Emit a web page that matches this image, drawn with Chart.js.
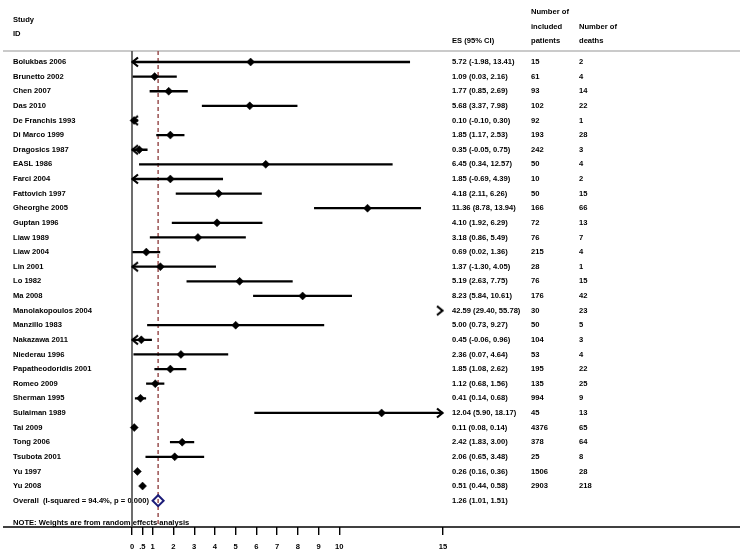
<!DOCTYPE html>
<html>
<head>
<meta charset="utf-8">
<script src="https://cdn.jsdelivr.net/npm/chart.js@4.4.1/dist/chart.umd.min.js"></script>
<style>
body { margin: 0; background: #fff; }
</style>
</head>
<body>
<canvas id="forest" width="745" height="553"></canvas>
<script>
///////////////////////////////// DONNEES

let studies = ["Bolukbas 2006","Brunetto 2002","Chen 2007","Das 2010","De Franchis 1993","Di Marco 1999","Dragosics 1987","EASL 1986","Farci 2004","Fattovich 1997","Gheorghe 2005","Guptan 1996","Liaw 1989","Liaw 2004","Lin 2001","Lo 1982","Ma 2008","Manolakopoulos 2004","Manzillo 1983","Nakazawa 2011","Niederau 1996","Papatheodoridis 2001","Romeo 2009","Sherman 1995","Sulaiman 1989","Tai 2009","Tong 2006","Tsubota 2001","Yu 1997","Yu 2008"];
let es = [5.72,1.09,1.77,5.68,0.10,1.85,0.35,6.45,1.85,4.18,11.36,4.10,3.18,0.69,1.37,5.19,8.23,42.59,5.00,0.45,2.36,1.85,1.12,0.41,12.04,0.11,2.42,2.06,0.26,0.51];
let lower = [-1.98,0.03,0.85,3.37,-0.10,1.17,-0.05,0.34,-0.69,2.11,8.78,1.92,0.86,0.02,-1.30,2.63,5.84,29.40,0.73,-0.06,0.07,1.08,0.68,0.14,5.90,0.08,1.83,0.65,0.16,0.44];
let upper = [13.41,2.16,2.69,7.98,0.30,2.53,0.75,12.57,4.39,6.26,13.94,6.29,5.49,1.36,4.05,7.75,10.61,55.78,9.27,0.96,4.64,2.62,1.56,0.68,18.17,0.14,3.00,3.48,0.36,0.58];
let patients = [15,61,93,102,92,193,242,50,10,50,166,72,76,215,28,76,176,30,50,104,53,195,135,994,45,4376,378,25,1506,2903];
let deaths = [2,4,14,22,1,28,3,4,2,15,66,13,7,4,1,15,42,23,5,3,4,22,25,9,13,65,64,8,28,218];

let overallLabel = "Overall  (I-squared = 94.4%, p = 0.000)";
let overallEs = 1.26, overallLow = 1.01, overallHigh = 1.51;
let noteText = "NOTE: Weights are from random effects analysis";

let tickValues = [0,0.5,1,2,3,4,5,6,7,8,9,10,15];
let xMin = 0, xMax = 15;

///////////////////////////////// CONSTRUCTION DES SERIES

let overallRow = studies.length;
let noteRow = studies.length + 1.55;
let yTop = -0.752, yBottom = 31.8;

let ciLines = [];
let points = [];
let leftArrows = [];
let rightArrows = [];

for (let i = 0; i < studies.length; i++) {
    let a = Math.max(lower[i], xMin);
    let b = Math.min(upper[i], xMax);
    if (a < b) {
        ciLines.push({x: a, y: i});
        ciLines.push({x: b, y: i});
        ciLines.push({x: b, y: null});
    }
    if (es[i] >= xMin && es[i] <= xMax) points.push({x: es[i], y: i});
    if (lower[i] < xMin) leftArrows.push({x: xMin, y: i});
    if (upper[i] > xMax) rightArrows.push({x: xMax, y: i});
}

function fmt(v) { return v.toFixed(2); }

// petites fleches ouvertes, la pointe au centre du canvas
function makeArrow(dir) {
    let c = document.createElement('canvas');
    c.width = 16; c.height = 12;
    let ctx = c.getContext('2d');
    ctx.strokeStyle = '#000';
    ctx.lineWidth = 2.2;
    ctx.lineJoin = 'miter';
    ctx.beginPath();
    if (dir < 0) {
        ctx.moveTo(14, 1.5); ctx.lineTo(8.5, 6); ctx.lineTo(14, 10.5);
    } else {
        ctx.moveTo(2, 1.5); ctx.lineTo(7.5, 6); ctx.lineTo(2, 10.5);
    }
    ctx.stroke();
    return c;
}

let font = "bold 7.6px 'Liberation Sans', Arial, sans-serif";

///////////////////////////////// TEXTES + LIGNES HORS ZONE

let textPlugin = {
    id: 'forestText',
    beforeDatasetsDraw(chart) {
        let ctx = chart.ctx;
        let y = chart.scales.y;
        let area = chart.chartArea;
        ctx.save();
        ctx.fillStyle = '#000';
        ctx.font = font;
        ctx.textBaseline = 'middle';
        ctx.textAlign = 'left';

        // entetes
        ctx.fillText("Study", 13, 20);
        ctx.fillText("ID", 13, 34);
        ctx.fillText("ES (95% CI)", 452, 41);
        ctx.fillText("Number of", 531, 12);
        ctx.fillText("included", 531, 27);
        ctx.fillText("patients", 531, 41);
        ctx.fillText("Number of", 579, 27);
        ctx.fillText("deaths", 579, 41);

        for (let i = 0; i < studies.length; i++) {
            let py = y.getPixelForValue(i);
            ctx.fillText(studies[i], 13, py);
            ctx.fillText(fmt(es[i]) + " (" + fmt(lower[i]) + ", " + fmt(upper[i]) + ")", 452, py);
            ctx.fillText(String(patients[i]), 531, py);
            ctx.fillText(String(deaths[i]), 579, py);
        }
        let po = y.getPixelForValue(overallRow);
        ctx.fillText(overallLabel, 13, po);
        ctx.fillText(fmt(overallEs) + " (" + fmt(overallLow) + ", " + fmt(overallHigh) + ")", 452, po);
        ctx.fillText(noteText, 13, y.getPixelForValue(noteRow));

        // ligne grise sous l'entete
        ctx.strokeStyle = '#b8b8b8';
        ctx.lineWidth = 1.5;
        ctx.beginPath();
        ctx.moveTo(3, area.top);
        ctx.lineTo(740, area.top);
        ctx.stroke();

        // axe x prolonge sur toute la largeur
        ctx.strokeStyle = '#000';
        ctx.lineWidth = 1.4;
        ctx.beginPath();
        ctx.moveTo(3, area.bottom);
        ctx.lineTo(740, area.bottom);
        ctx.stroke();
        ctx.restore();
    }
};

///////////////////////////////// GRAPH FOREST PLOT

let chart = document.getElementById("forest");
let forestChart = new Chart(chart, {
    type: 'line',
    data: {
        datasets: [
            {
                label: 'zero',
                data: [{x: 0, y: yTop}, {x: 0, y: yBottom}],
                borderColor: '#4a4a4a',
                borderWidth: 1.6,
                pointRadius: 0,
                clip: false,
                order: 6,
            },
            {
                label: 'overall line',
                data: [{x: overallEs, y: yTop}, {x: overallEs, y: yBottom}],
                borderColor: '#9a5050',
                borderWidth: 1.5,
                borderDash: [4, 3],
                pointRadius: 0,
                clip: false,
                order: 5,
            },
            {
                label: 'CI',
                data: ciLines,
                borderColor: '#000',
                borderWidth: 2.3,
                pointRadius: 0,
                spanGaps: false,
                clip: false,
                order: 4,
            },
            {
                label: 'left arrows',
                data: leftArrows,
                showLine: false,
                pointStyle: makeArrow(-1),
                pointRadius: 5,
                clip: false,
                order: 3,
            },
            {
                label: 'right arrows',
                data: rightArrows,
                showLine: false,
                pointStyle: makeArrow(1),
                pointRadius: 5,
                clip: false,
                order: 3,
            },
            {
                label: 'ES',
                data: points,
                showLine: false,
                pointStyle: 'rectRot',
                pointRadius: 4,
                pointBackgroundColor: '#000',
                pointBorderColor: '#000',
                pointBorderWidth: 0.5,
                clip: false,
                order: 2,
            },
            {
                label: 'Overall',
                data: [{x: overallEs, y: overallRow}],
                showLine: false,
                pointStyle: 'rectRot',
                pointRadius: 5.5,
                pointBackgroundColor: 'rgba(0,0,0,0)',
                pointBorderColor: '#1c1c78',
                pointBorderWidth: 2,
                clip: false,
                order: 1,
            },
        ]
    },
    options: {
        responsive: false,
        animation: false,
        devicePixelRatio: 1,
        layout: {
            padding: {left: 132, right: 302, top: 51, bottom: 0}
        },
        plugins: {
            legend: {display: false},
            tooltip: {enabled: false}
        },
        scales: {
            x: {
                type: 'linear',
                min: xMin,
                max: xMax,
                afterBuildTicks: function(scale) {
                    scale.ticks = tickValues.map(v => ({value: v}));
                },
                afterFit: function(scale) {
                    scale.height = 26;
                },
                grid: {
                    display: true,
                    drawOnChartArea: false,
                    drawTicks: true,
                    tickLength: 8,
                    color: '#000',
                    lineWidth: 1.4,
                },
                border: {display: false},
                ticks: {
                    color: '#000',
                    padding: 7,
                    maxRotation: 0,
                    autoSkip: false,
                    font: {family: "'Liberation Sans', Arial, sans-serif", size: 7.6, weight: 'bold'},
                    callback: function(v) { return v === 0.5 ? '.5' : String(v); }
                }
            },
            y: {
                type: 'linear',
                min: yTop,
                max: yBottom,
                reverse: true,
                display: false
            }
        }
    },
    plugins: [textPlugin]
});
</script>
</body>
</html>
